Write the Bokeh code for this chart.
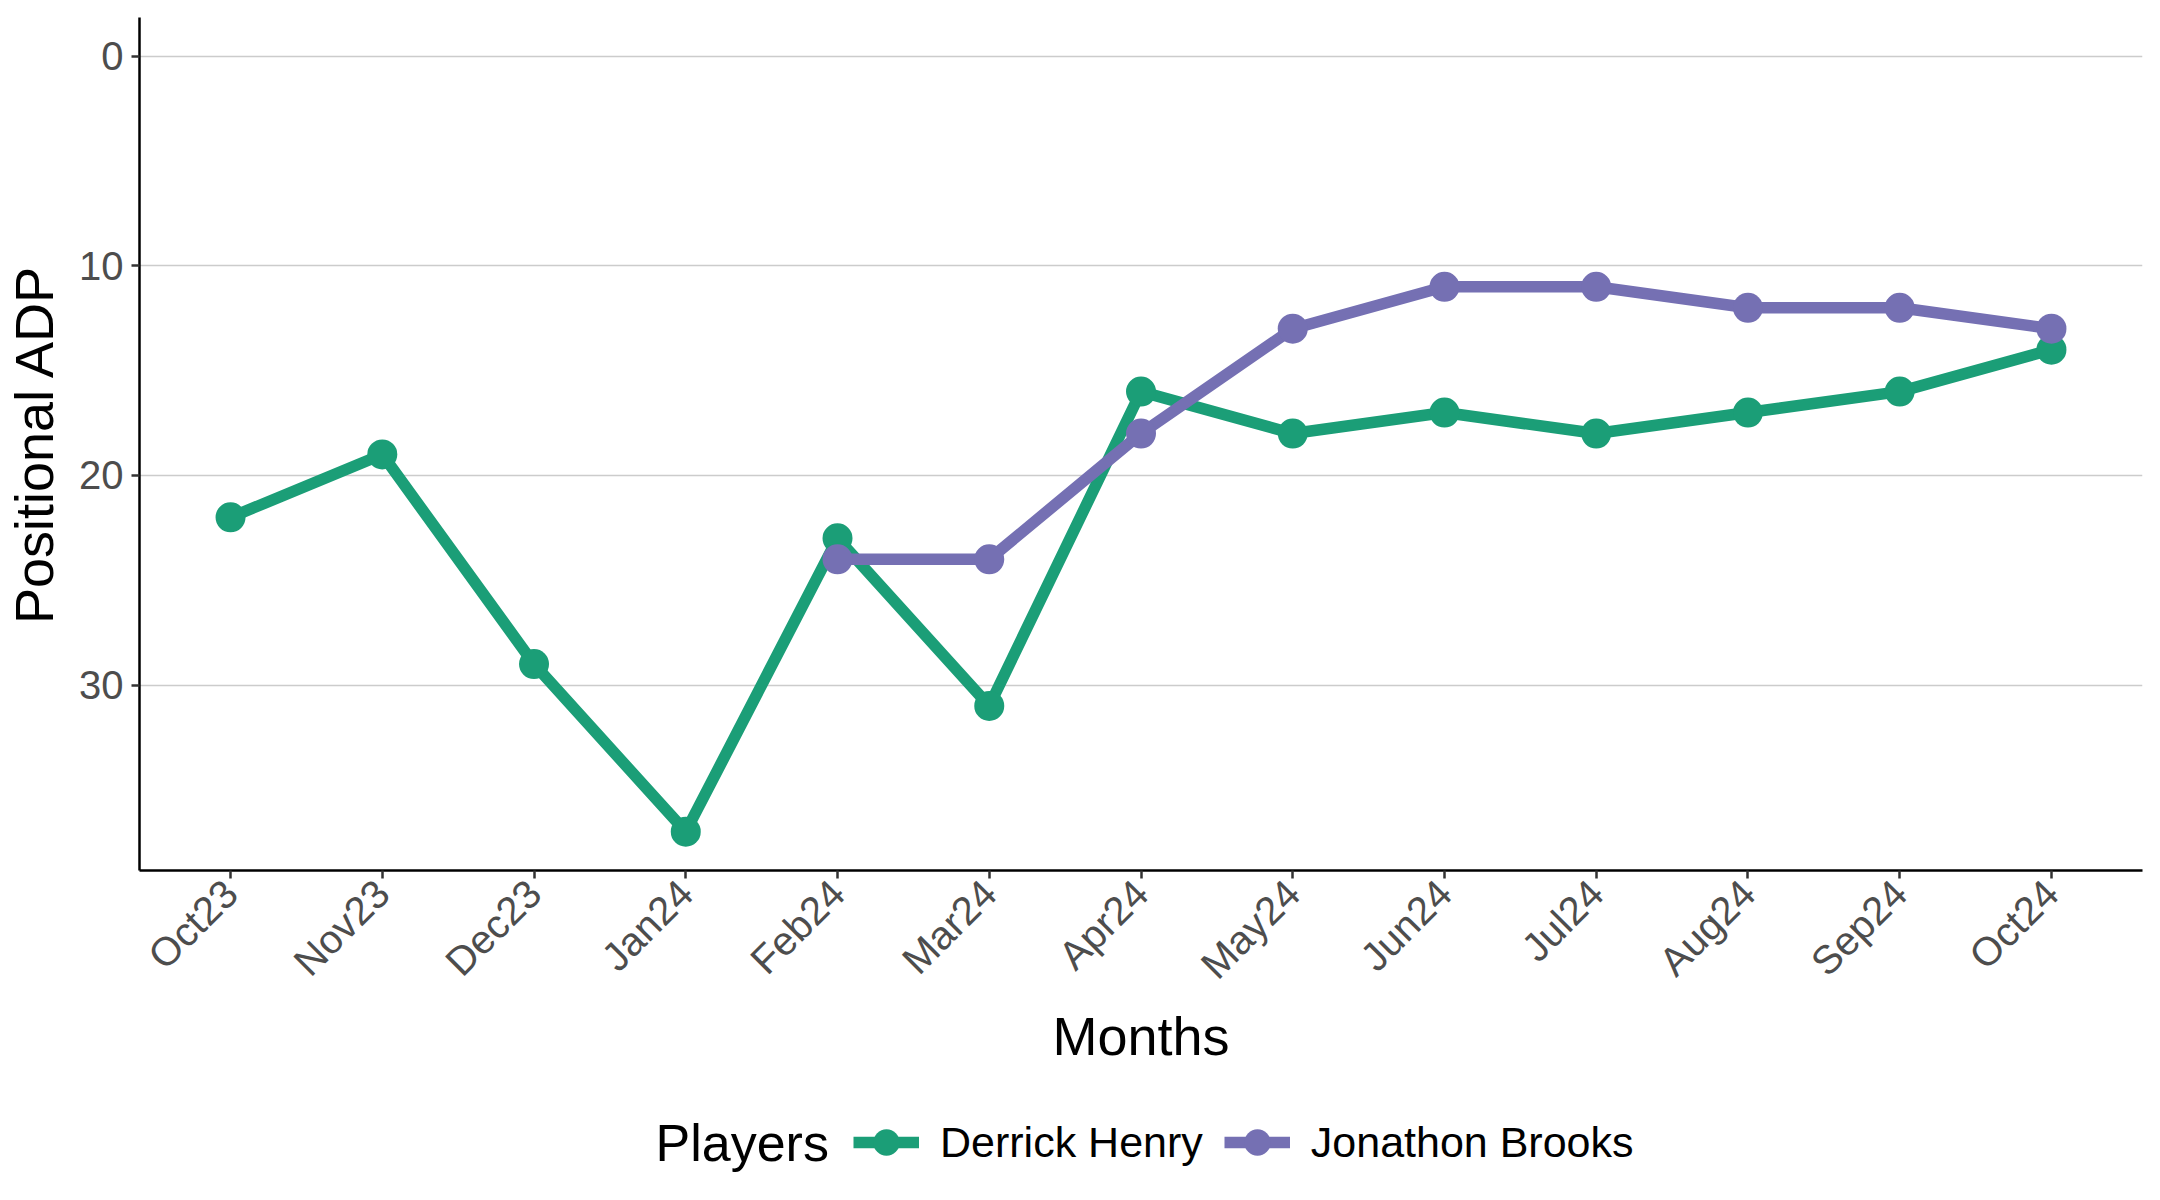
import math
from bokeh.plotting import figure
from bokeh.layouts import column
from bokeh.models import (Range1d, FactorRange, FixedTicker, Legend, LegendItem,
                          ColumnDataSource, Label)
from bokeh.embed import file_html
from bokeh.resources import INLINE

months = ["Oct23", "Nov23", "Dec23", "Jan24", "Feb24", "Mar24", "Apr24",
          "May24", "Jun24", "Jul24", "Aug24", "Sep24", "Oct24"]
henry_months = months
henry_adp = [22, 19, 29, 37, 23, 31, 16, 18, 17, 18, 17, 16, 14]
brooks_months = ["Feb24", "Mar24", "Apr24", "May24", "Jun24", "Jul24", "Aug24", "Sep24", "Oct24"]
brooks_adp = [24, 24, 18, 13, 11, 11, 12, 12, 13]
y_ticks = [0, 10, 20, 30]
players = ["Derrick Henry", "Jonathon Brooks"]

GREEN = "#1B9E77"
PURPLE = "#7570B3"
FONT = "Liberation Sans"
LW = 11.5
MS = 30

W = 2144
H_MAIN = 1100
H_LEG = 84
FRAME_LEFT = 139

p = figure(width=W, height=H_MAIN, output_backend="svg", toolbar_location=None,
           x_range=FactorRange(*months, range_padding=0.1, range_padding_units="absolute"),
           y_range=Range1d(38.85, -1.85),
           min_border_left=FRAME_LEFT, min_border_right=2, min_border_top=17,
           min_border_bottom=H_MAIN - 870)
p.outline_line_color = None
p.background_fill_color = "white"
p.border_fill_color = "white"

src_h = ColumnDataSource(dict(x=henry_months, y=henry_adp))
src_b = ColumnDataSource(dict(x=brooks_months, y=brooks_adp))

p.line("x", "y", source=src_h, line_color=GREEN, line_width=LW, line_join="round")
p.line("x", "y", source=src_b, line_color=PURPLE, line_width=LW, line_join="round")
p.scatter("x", "y", source=src_h, size=MS, fill_color=GREEN, line_color=None)
p.scatter("x", "y", source=src_b, size=MS, fill_color=PURPLE, line_color=None)

p.xgrid.grid_line_color = None
p.ygrid.grid_line_color = "#cccccc"
p.ygrid.grid_line_width = 1.4
p.yaxis.ticker = FixedTicker(ticks=y_ticks, minor_ticks=[])

for ax in (p.xaxis[0], p.yaxis[0]):
    ax.axis_line_color = "black"
    ax.axis_line_width = 2.5
    ax.major_tick_line_color = "#333333"
    ax.major_tick_line_width = 2.5
    ax.major_tick_out = 8
    ax.major_tick_in = 0
    ax.minor_tick_line_color = None
    ax.major_label_text_font = FONT
    ax.major_label_text_font_size = "40px"
    ax.major_label_text_color = "#4D4D4D"
    ax.major_label_standoff = 8
    ax.axis_label_text_font = FONT
    ax.axis_label_text_font_size = "54px"
    ax.axis_label_text_font_style = "normal"
    ax.axis_label_text_color = "black"

p.xaxis.axis_label = "Months"
p.yaxis.axis_label = "Positional ADP"
p.xaxis.major_label_orientation = math.pi / 4
p.xaxis.axis_label_standoff = 0
p.yaxis.axis_label_standoff = 12

# legend strip (its frame is aligned with the main frame by the column layout)
q = figure(width=W, height=H_LEG, output_backend="svg", toolbar_location=None,
           x_axis_location=None, y_axis_location=None,
           x_range=Range1d(0, 1), y_range=Range1d(0, 1),
           min_border_left=0, min_border_right=0, min_border_top=0, min_border_bottom=0)
q.outline_line_color = None
q.grid.visible = False
q.border_fill_color = "white"
q.background_fill_color = "white"

nan = float("nan")
dummy = ColumnDataSource(dict(x=[nan], y=[nan]))
dl1 = q.line("x", "y", source=dummy, line_color=GREEN, line_width=LW)
ds1 = q.scatter("x", "y", source=dummy, size=MS, fill_color=GREEN, line_color=None)
dl2 = q.line("x", "y", source=dummy, line_color=PURPLE, line_width=LW)
ds2 = q.scatter("x", "y", source=dummy, size=MS, fill_color=PURPLE, line_color=None)

GW = 66
legend = Legend(items=[LegendItem(label=players[0], renderers=[dl1, ds1]),
                       LegendItem(label=players[1], renderers=[dl2, ds2])],
                orientation="horizontal",
                location=(886 - GW // 2 - FRAME_LEFT, (H_LEG - GW) // 2),
                label_text_font=FONT, label_text_font_size="43px", label_text_color="black",
                label_text_baseline="middle",
                glyph_width=GW, glyph_height=GW, label_standoff=21, spacing=21,
                padding=0, margin=0, border_line_color=None, background_fill_alpha=0)
q.add_layout(legend, "center")

q.add_layout(Label(x=655 - FRAME_LEFT, y=H_LEG / 2, x_units="screen", y_units="screen",
                   text="Players", text_font=FONT, text_font_size="52px",
                   text_color="black", text_baseline="middle", text_align="left"))

layout = column(p, q, spacing=0)
open("out.html", "w").write(file_html(layout, INLINE))
